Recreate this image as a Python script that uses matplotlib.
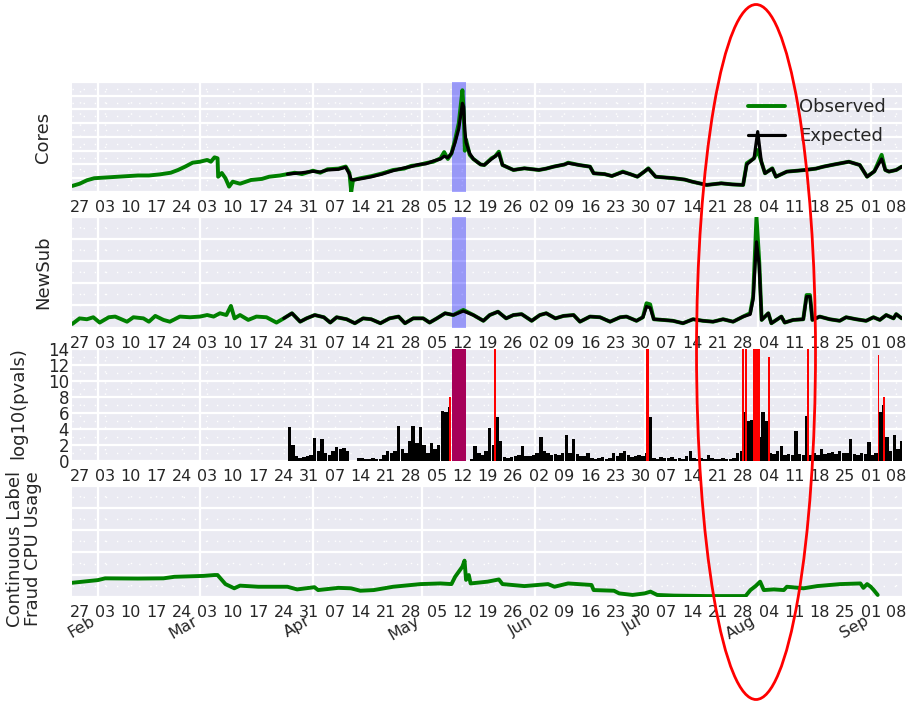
import numpy as np
import pandas as pd
import matplotlib
matplotlib.use('Agg')
import matplotlib.pyplot as plt
import matplotlib.dates as mdates
from matplotlib.ticker import MultipleLocator, AutoMinorLocator, NullFormatter
from matplotlib.patches import Ellipse
import seaborn as sns

sns.set_style('darkgrid')
plt.rcParams['font.family'] = ['DejaVu Sans']

# ---- Cores (observed vs expected) ----
cores_dates = ['2014-01-25', '2014-01-27', '2014-01-29', '2014-01-31', '2014-02-03', '2014-02-06',
               '2014-02-09', '2014-02-12', '2014-02-15', '2014-02-18', '2014-02-21', '2014-02-23',
               '2014-02-25', '2014-02-27', '2014-03-01', '2014-03-03', '2014-03-04', '2014-03-05',
               '2014-03-05 20:00', '2014-03-06', '2014-03-07', '2014-03-08', '2014-03-09', '2014-03-10',
               '2014-03-12', '2014-03-15', '2014-03-18', '2014-03-20', '2014-03-23', '2014-03-25',
               '2014-03-27', '2014-03-29', '2014-04-01', '2014-04-03', '2014-04-05', '2014-04-08',
               '2014-04-10', '2014-04-11', '2014-04-11 12:00', '2014-04-12', '2014-04-14', '2014-04-17',
               '2014-04-20', '2014-04-23', '2014-04-26', '2014-04-28', '2014-04-30', '2014-05-02',
               '2014-05-04', '2014-05-06', '2014-05-07', '2014-05-08', '2014-05-09', '2014-05-10',
               '2014-05-11', '2014-05-12', '2014-05-12 08:00', '2014-05-12 16:00', '2014-05-13', '2014-05-14',
               '2014-05-15', '2014-05-17', '2014-05-18', '2014-05-20', '2014-05-21', '2014-05-22',
               '2014-05-23', '2014-05-26', '2014-05-29', '2014-06-02', '2014-06-04', '2014-06-06',
               '2014-06-09', '2014-06-10', '2014-06-13', '2014-06-16', '2014-06-17', '2014-06-20',
               '2014-06-22', '2014-06-25', '2014-06-27', '2014-06-29', '2014-07-01', '2014-07-02',
               '2014-07-04', '2014-07-09', '2014-07-12', '2014-07-14', '2014-07-18', '2014-07-22',
               '2014-07-25', '2014-07-28', '2014-07-29', '2014-07-31', '2014-08-01', '2014-08-02',
               '2014-08-03', '2014-08-05', '2014-08-06', '2014-08-09', '2014-08-12', '2014-08-14',
               '2014-08-17', '2014-08-19', '2014-08-22', '2014-08-26', '2014-08-29', '2014-08-31',
               '2014-09-02', '2014-09-04', '2014-09-05', '2014-09-06', '2014-09-08', '2014-09-09 12:00']
cores_obs = [0.44, 0.6, 0.85, 1.0, 1.05, 1.1, 1.15, 1.2, 1.2, 1.28, 1.4, 1.6,
             1.85, 2.13, 2.2, 2.33, 2.2, 2.52, 2.45, 1.11, 1.38, 1.0, 0.39, 0.75,
             0.6, 0.87, 0.95, 1.11, 1.2, 1.3, 1.4, 1.3, 1.55, 1.4, 1.65, 1.7,
             1.85, 1.4, 0.02, 0.87, 1.0, 1.15, 1.35, 1.6, 1.7, 1.9, 1.96, 2.1,
             2.2, 2.45, 2.9, 2.4, 2.8, 3.8, 5.0, 7.4, 6.0, 3.0, 3.8, 2.7,
             2.4, 2.0, 1.96, 2.45, 2.6, 2.93, 1.96, 1.6, 1.72, 1.6, 1.7, 1.84,
             2.0, 2.13, 1.96, 1.84, 1.36, 1.3, 1.16, 1.48, 1.3, 1.11, 1.5, 1.72,
             1.11, 1.0, 0.9, 0.75, 0.51, 0.63, 0.55, 0.51, 2.09, 2.45, 3.05, 2.2,
             1.36, 1.72, 1.11, 1.48, 1.55, 1.6, 1.7, 1.84, 2.0, 2.2, 1.96, 1.11,
             1.5, 2.7, 1.6, 1.48, 1.6, 1.84]
cores_exp = [np.nan] * 29 + [
             1.3, 1.35, 1.4, 1.5, 1.45, 1.6, 1.65,
             1.8, 1.3, 0.9, 0.87, 0.95, 1.1, 1.3, 1.55, 1.75, 1.85, 2.0, 2.05,
             2.25, 2.4, 2.6, 2.5, 2.8, 3.6, 4.6, 6.45, 6.2, 4.5, 3.6, 2.8,
             2.4, 2.0, 1.96, 2.4, 2.6, 2.8, 1.96, 1.6, 1.72, 1.6, 1.7, 1.84,
             2.0, 2.1, 1.96, 1.84, 1.36, 1.3, 1.16, 1.45, 1.3, 1.11, 1.5, 1.7,
             1.11, 1.0, 0.9, 0.75, 0.51, 0.63, 0.55, 0.51, 2.0, 2.45, 4.39, 2.2,
             1.36, 1.7, 1.11, 1.48, 1.55, 1.6, 1.7, 1.84, 2.0, 2.2, 1.96, 1.11,
             1.5, 2.4, 1.6, 1.48, 1.6, 1.84]

# ---- NewSub ----
newsub_dates = ['2014-01-25', '2014-01-27', '2014-01-29', '2014-01-30 18:00', '2014-02-01 12:00', '2014-02-04',
                '2014-02-05 18:00', '2014-02-09', '2014-02-10 18:00', '2014-02-13 12:00', '2014-02-15', '2014-02-16 18:00',
                '2014-02-19', '2014-02-20 18:00', '2014-02-23 12:00', '2014-02-26 06:00', '2014-03-01', '2014-03-03',
                '2014-03-04 18:00', '2014-03-06 12:00', '2014-03-08 06:00', '2014-03-09 12:00', '2014-03-10 12:00',
                '2014-03-12', '2014-03-14 06:00', '2014-03-16 12:00', '2014-03-19 06:00', '2014-03-22', '2014-03-24',
                '2014-03-26 06:00', '2014-03-28 12:00', '2014-03-30 06:00', '2014-04-01 12:00', '2014-04-04',
                '2014-04-05 18:00', '2014-04-07 12:00', '2014-04-10 06:00', '2014-04-12 12:00', '2014-04-14 18:00',
                '2014-04-17', '2014-04-19 12:00', '2014-04-22', '2014-04-24 12:00', '2014-04-26 06:00',
                '2014-04-28 12:00', '2014-05-01 06:00', '2014-05-03', '2014-05-05', '2014-05-07 06:00',
                '2014-05-09 12:00', '2014-05-12 06:00', '2014-05-15', '2014-05-17 18:00', '2014-05-19 12:00',
                '2014-05-21 18:00', '2014-05-24', '2014-05-26', '2014-05-28 06:00', '2014-05-31', '2014-06-02 06:00',
                '2014-06-04', '2014-06-06 12:00', '2014-06-08 18:00', '2014-06-11 12:00', '2014-06-13 06:00',
                '2014-06-16', '2014-06-18 18:00', '2014-06-21 12:00', '2014-06-24 06:00', '2014-06-26',
                '2014-06-28 18:00', '2014-06-30 12:00', '2014-07-01 12:00', '2014-07-02 12:00', '2014-07-03 12:00',
                '2014-07-06', '2014-07-08 18:00', '2014-07-11 12:00', '2014-07-14 06:00', '2014-07-17',
                '2014-07-19 18:00', '2014-07-22 12:00', '2014-07-25 06:00', '2014-07-28', '2014-07-29 22:00',
                '2014-07-30 18:00', '2014-07-31 16:00', '2014-08-01 10:00', '2014-08-02 02:00', '2014-08-03 22:00',
                '2014-08-04 18:00', '2014-08-07 12:00', '2014-08-08 10:00', '2014-08-10 18:00', '2014-08-13 12:00',
                '2014-08-14 10:00', '2014-08-15 08:00', '2014-08-16', '2014-08-18', '2014-08-20 18:00',
                '2014-08-23 12:00', '2014-08-25 06:00', '2014-08-28', '2014-08-30 18:00', '2014-09-01 18:00',
                '2014-09-03 12:00', '2014-09-05 06:00', '2014-09-07 06:00', '2014-09-08', '2014-09-09 12:00']
newsub_obs = [0.17, 0.42, 0.38, 0.47, 0.23, 0.47, 0.5, 0.27, 0.47, 0.42, 0.27, 0.53,
              0.35, 0.27, 0.5, 0.47, 0.5, 0.57, 0.5, 0.65, 0.57, 0.98, 0.42,
              0.57, 0.35, 0.5, 0.47, 0.23, 0.42, 0.65, 0.27, 0.42, 0.57, 0.47,
              0.23, 0.47, 0.38, 0.2, 0.42, 0.38, 0.2, 0.42, 0.5, 0.2,
              0.42, 0.42, 0.23, 0.42, 0.65, 0.57, 0.8, 0.57, 0.31, 0.57,
              0.72, 0.42, 0.57, 0.61, 0.31, 0.57, 0.65, 0.42, 0.53, 0.57, 0.27,
              0.5, 0.47, 0.27, 0.47, 0.5, 0.31, 0.47, 1.1, 1.05, 0.38,
              0.35, 0.31, 0.2, 0.38, 0.31, 0.27, 0.38, 0.27, 0.5, 0.65,
              1.4, 5.0, 3.0, 0.35, 0.65, 0.2, 0.5, 0.23, 0.35, 0.38,
              1.47, 1.47, 0.35, 0.5, 0.38, 0.31, 0.47, 0.38, 0.31, 0.47,
              0.35, 0.57, 0.42, 0.61, 0.42]
newsub_exp = [np.nan] * 28 + [
              0.42, 0.65, 0.27, 0.42, 0.57, 0.47,
              0.23, 0.47, 0.38, 0.2, 0.42, 0.38, 0.2, 0.42, 0.5, 0.2,
              0.42, 0.42, 0.23, 0.42, 0.65, 0.57, 0.75, 0.57, 0.31, 0.57,
              0.72, 0.42, 0.57, 0.61, 0.31, 0.57, 0.65, 0.42, 0.53, 0.57, 0.27,
              0.5, 0.47, 0.27, 0.47, 0.5, 0.31, 0.47, 0.95, 0.9, 0.38,
              0.35, 0.31, 0.2, 0.38, 0.31, 0.27, 0.38, 0.27, 0.5, 0.6,
              1.3, 3.87, 2.8, 0.35, 0.65, 0.2, 0.5, 0.23, 0.35, 0.38,
              1.4, 1.4, 0.35, 0.5, 0.38, 0.31, 0.47, 0.38, 0.31, 0.47,
              0.35, 0.57, 0.42, 0.61, 0.42]

# ---- log10(pvals): daily maxima from Mon 24 Mar ----
pval_start = '2014-03-24'
pval_vals = [0, 4.3, 2.0, 0.6, 0.4, 0.5, 0.6,
             0.8, 2.9, 1.2, 2.7, 1.0, 0.8, 1.2,
             1.8, 1.5, 1.6, 1.2, 0, 0, 0.4,
             0.4, 0.3, 0.3, 0.4, 0.3, 0.3, 0.8,
             1.2, 1.0, 1.3, 4.4, 1.5, 1.0, 2.5,
             4.4, 2.2, 4.3, 2.0, 1.0, 2.2, 1.5,
             2.0, 6.3, 6.2, 6.8, 0, 0, 0,
             0, 0, 0.3, 1.9, 1.0, 0.8, 1.2,
             4.1, 2.0, 5.5, 2.5, 0.5, 0.4, 0.5,
             0.6, 0.8, 1.9, 0.6, 0.6, 0.8, 1.0,
             3.0, 1.2, 1.0, 0.8, 0.9, 0.7, 1.0,
             3.3, 1.0, 2.8, 0.9, 0.6, 0.6, 1.0,
             0.4, 0.3, 0.4, 0.5, 0.3, 0.4, 1.0,
             0.6, 1.0, 1.2, 0.8, 0.5, 0.6, 0.8,
             0.6, 1.0, 5.5, 0.4, 0.3, 0.5, 0.4,
             0.4, 0.5, 0.3, 0.4, 0.3, 0.6, 1.3,
             0.4, 0.3, 0.4, 0.3, 0.8, 0.4, 0.3,
             0.3, 0.4, 0.3, 0.3, 0.4, 1.0, 1.2,
             6.2, 5.0, 5.2, 5.0, 3.0, 6.2, 5.0,
             1.0, 0.9, 1.2, 1.9, 0.8, 0.9, 0.7,
             3.7, 0.9, 0.8, 5.6, 0.8, 1.0, 0.7,
             1.5, 0.9, 1.0, 1.1, 0.9, 1.2, 1.0,
             1.0, 2.8, 0.9, 0.8, 1.0, 0.9, 2.4,
             0.8, 1.0, 6.1, 7.0, 3.0, 1.2, 3.3,
             1.5, 2.5]
# flagged (red) intervals
red_starts = ['2014-05-08 06:00', '2014-05-09 05:00', '2014-05-20 18:00', '2014-07-01 10:00', '2014-07-27 18:00',
              '2014-07-28 14:00', '2014-07-30 20:00', '2014-08-03 20:00', '2014-08-14 12:00', '2014-09-02 22:00',
              '2014-09-04 10:00']
red_widths = [0.5, 3.8, 0.55, 0.8, 0.5, 0.5, 1.8, 0.45, 0.55, 0.45, 0.45]
red_heights = [8.0, 14, 14, 14, 14, 14, 14, 13, 14, 13.3, 8.0]

# ---- Continuous label: fraud CPU usage ----
cpu_dates = ['2014-01-25', '2014-02-01', '2014-02-03', '2014-02-12', '2014-02-19', '2014-02-22', '2014-03-02',
             '2014-03-05', '2014-03-05 20:00', '2014-03-08', '2014-03-10 10:00', '2014-03-12', '2014-03-17',
             '2014-03-25', '2014-03-27 16:00', '2014-04-01 10:00', '2014-04-02 10:00', '2014-04-08',
             '2014-04-11 10:00', '2014-04-14', '2014-04-17 16:00', '2014-04-23', '2014-04-30 12:00',
             '2014-05-06', '2014-05-09', '2014-05-10', '2014-05-12', '2014-05-12 14:00', '2014-05-13',
             '2014-05-13 18:00', '2014-05-14 06:00', '2014-05-18 22:00', '2014-05-22', '2014-05-23', '2014-05-29',
             '2014-06-04 12:00', '2014-06-06 06:00', '2014-06-10', '2014-06-16 10:00', '2014-06-17',
             '2014-06-22 14:00', '2014-06-24', '2014-06-27 16:00', '2014-07-01', '2014-07-02 14:00',
             '2014-07-04 10:00', '2014-07-09', '2014-07-18', '2014-07-28 16:00', '2014-07-30', '2014-07-31 10:00',
             '2014-08-01 16:00', '2014-08-02 16:00', '2014-08-05 10:00', '2014-08-08 04:00', '2014-08-09',
             '2014-08-13 14:00', '2014-08-17 08:00', '2014-08-23 16:00', '2014-08-29 04:00', '2014-08-30',
             '2014-08-31', '2014-09-01', '2014-09-01 20:00', '2014-09-02 22:00']
cpu_vals = [0.63, 0.75, 0.83, 0.82, 0.83, 0.9, 0.94,
            0.98, 0.98, 0.57, 0.38, 0.5, 0.45,
            0.45, 0.33, 0.43, 0.3, 0.4,
            0.38, 0.27, 0.3, 0.45, 0.57,
            0.6, 0.57, 0.9, 1.36, 1.63, 0.76,
            0.98, 0.6, 0.68, 0.78, 0.57, 0.48,
            0.57, 0.45, 0.6, 0.53, 0.3,
            0.27, 0.15, 0.08, 0.15, 0.23,
            0.08, 0.05, 0.03, 0.03, 0.3, 0.48,
            0.68, 0.3, 0.33, 0.3, 0.45,
            0.38, 0.48, 0.57, 0.6, 0.4,
            0.57, 0.45, 0.3, 0.08]

GREEN = '#008000'
SPAN_START, SPAN_END = '2014-05-09 05:00', '2014-05-13 00:00'
TXT = '#262626'


def to_dt(lst):
    return pd.to_datetime(lst, format='ISO8601')


fig = plt.figure(figsize=(9.09, 7.05), dpi=100)
L, W = 0.0789, 0.9134
ax1 = fig.add_axes([L, 0.7277, W, 0.156])
ax2 = fig.add_axes([L, 0.5352, W, 0.1574])
ax3 = fig.add_axes([L, 0.3461, W, 0.1584])
ax4 = fig.add_axes([L, 0.1536, W, 0.157])
axes = [ax1, ax2, ax3, ax4]

span = (mdates.date2num(pd.Timestamp(SPAN_START)), mdates.date2num(pd.Timestamp(SPAN_END)))

# Cores
cd = to_dt(cores_dates)
ax1.axvspan(*span, color='blue', alpha=0.35, lw=0, zorder=1)
ax1.plot(cd, cores_obs, color=GREEN, lw=2.8, label='Observed', zorder=2)
ax1.plot(cd, cores_exp, color='black', lw=2.3, label='Expected', zorder=3)
ax1.set_ylim(0, 8)
ax1.yaxis.set_major_locator(MultipleLocator(1))
ax1.set_ylabel('Cores', fontsize=13, color=TXT)
ax1.yaxis.set_label_coords(-0.024, 0.5)
ax1.legend(loc='upper right', frameon=False, fontsize=13, labelspacing=0.6)

# NewSub
nd = to_dt(newsub_dates)
ax2.axvspan(*span, color='blue', alpha=0.35, lw=0, zorder=1)
ax2.plot(nd, newsub_obs, color=GREEN, lw=2.8, zorder=2)
ax2.plot(nd, newsub_exp, color='black', lw=2.3, zorder=3)
ax2.set_ylim(0, 5)
ax2.yaxis.set_major_locator(MultipleLocator(1))
ax2.set_ylabel('NewSub', fontsize=13, color=TXT)
ax2.yaxis.set_label_coords(-0.024, 0.5)

# log10(pvals)
pdays = mdates.date2num(pd.date_range(pval_start, periods=len(pval_vals), freq='D') + pd.Timedelta(hours=12))
ax3.bar(pdays, pval_vals, width=0.95, color='black', lw=0, zorder=1)
ax3.bar(mdates.date2num(to_dt(red_starts)), red_heights, width=red_widths, align='edge',
        color='red', lw=0, zorder=1.5)
ax3.axvspan(*span, color='blue', alpha=0.35, lw=0, zorder=2)
ax3.set_ylim(0, 14)
ax3.yaxis.set_major_locator(MultipleLocator(2))
ax3.tick_params(axis='y', labelsize=12, pad=2, labelcolor=TXT)
ax3.set_ylabel('log10(pvals)', fontsize=13, color=TXT)
ax3.yaxis.set_label_coords(-0.053, 0.52)

# CPU usage
ax4.plot(to_dt(cpu_dates), cpu_vals, color=GREEN, lw=2.8)
ax4.set_ylim(0, 5)
ax4.yaxis.set_major_locator(MultipleLocator(1))
ax4.set_ylabel('Continuous Label\nFraud CPU Usage', fontsize=13, color=TXT, linespacing=1.0)
ax4.yaxis.set_label_coords(-0.036, 0.43)

xlo = mdates.date2num(pd.Timestamp('2014-01-24 20:00'))
xhi = mdates.date2num(pd.Timestamp('2014-09-09 14:00'))
for ax in axes:
    ax.xaxis_date()
    ax.set_xlim(xlo, xhi)
    ax.xaxis.set_major_locator(mdates.MonthLocator())
    ax.xaxis.set_minor_locator(mdates.WeekdayLocator(byweekday=mdates.MO))
    ax.xaxis.set_minor_formatter(mdates.DateFormatter('%d'))
    ax.xaxis.remove_overlapping_locs = False
    ax.yaxis.set_minor_locator(AutoMinorLocator(2))
    ax.grid(which='major', color='white', lw=1.6)
    ax.grid(which='minor', color='white', lw=1.0, ls=(0, (1, 7)))
    ax.tick_params(which='both', length=0)
    ax.tick_params(axis='x', which='minor', labelsize=11.5, pad=6, labelcolor=TXT)
    for s in ax.spines.values():
        s.set_visible(False)
    if ax is not ax3:
        ax.yaxis.set_major_formatter(NullFormatter())
    if ax is not ax4:
        ax.xaxis.set_major_formatter(NullFormatter())

ax4.xaxis.set_major_formatter(mdates.DateFormatter('%b'))
ax4.tick_params(axis='x', which='major', labelsize=11.5, pad=12, labelcolor=TXT)
for lbl in ax4.get_xticklabels(which='major'):
    lbl.set_rotation(30)
    lbl.set_ha('right')

# red ellipse highlight drawn over the figure
fig.add_artist(Ellipse((0.8317, 0.5007), 0.1309, 0.9858, transform=fig.transFigure,
                       fill=False, edgecolor='red', lw=2, zorder=10))

fig.savefig('out.png', dpi=100, facecolor='white')
